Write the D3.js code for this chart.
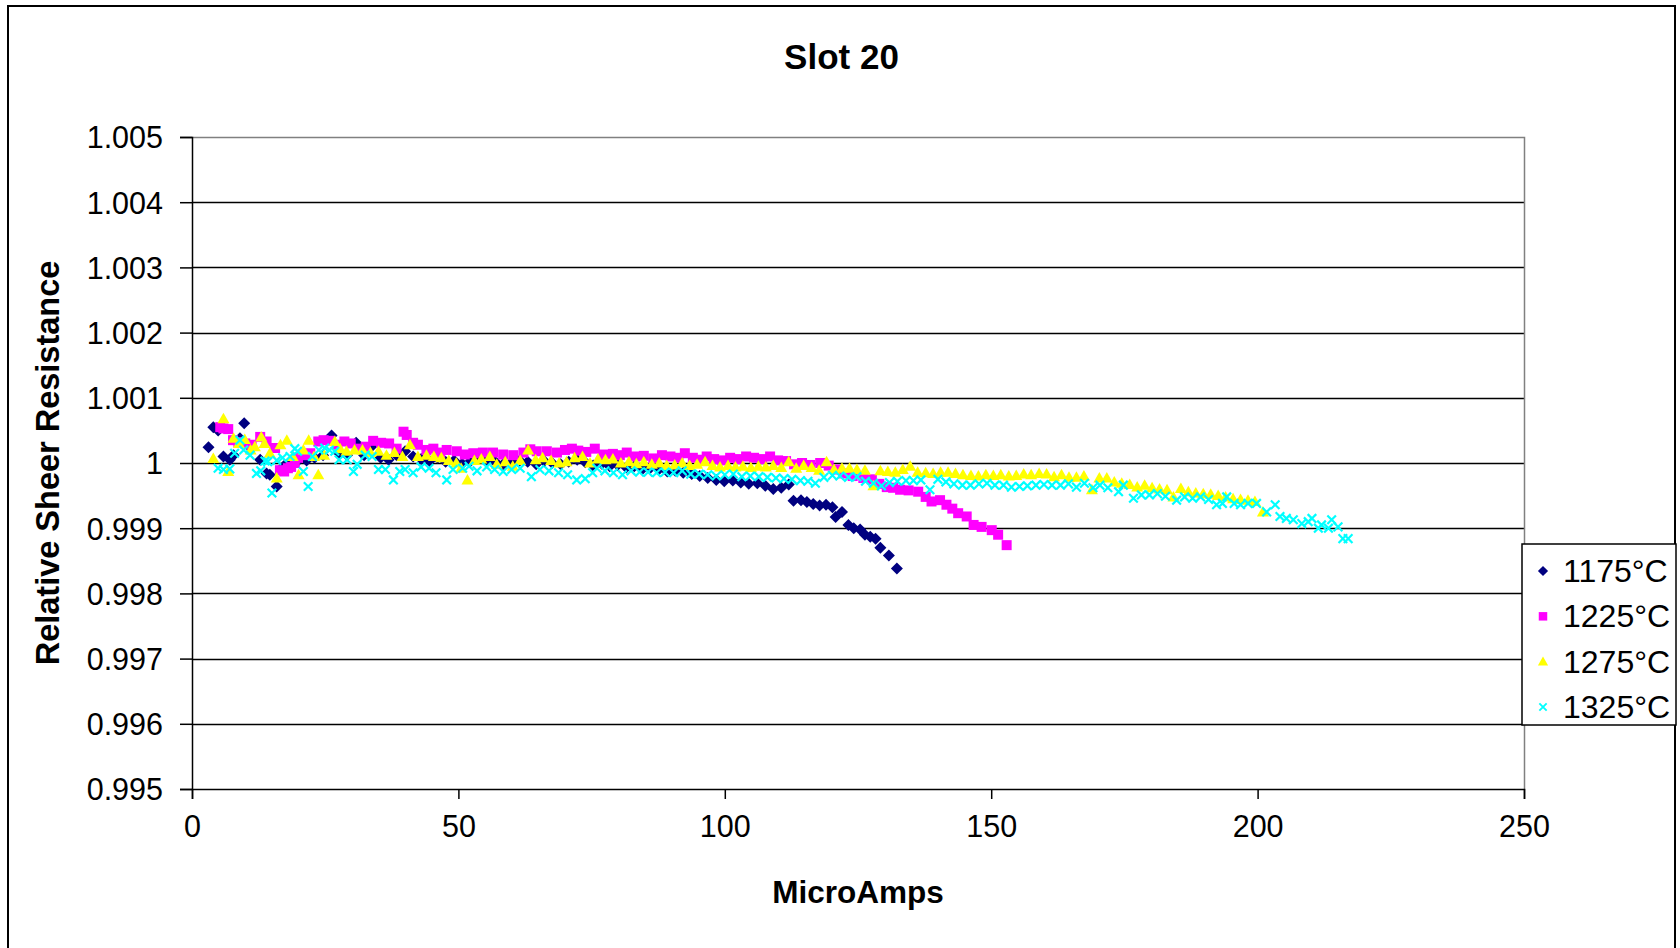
<!DOCTYPE html>
<html>
<head>
<meta charset="utf-8">
<script src="https://cdn.jsdelivr.net/npm/d3@7"></script>
<style>
  html, body { margin: 0; padding: 0; background: #fff; }
  svg { display: block; }
  text { font-family: "Liberation Sans", Arial, sans-serif; fill: #000; }
</style>
</head>
<body>
<svg id="chart" width="1680" height="948"></svg>
<script>
// ---- data: [MicroAmps, relative sheer resistance] ----
const series1175 = [
  [3.1,1.00024],[4.0,1.00055],[4.9,1.00050],[5.9,1.00010],[7.1,1.00005],[7.8,1.00012],[9.0,1.00038],[9.8,1.00061],
  [11.2,1.00022],[12.8,1.00005],[14.0,0.99984],[14.6,0.99982],[15.9,0.99964],[17.2,0.99995],[18.6,1.00003],[20.1,1.00005],
  [21.5,1.00004],[23.0,1.00008],[24.6,1.00012],[26.2,1.00042],[27.6,1.00015],[29.1,1.00012],[30.8,1.00031],[32.3,1.00012],
  [33.8,1.00026],[35.4,1.00008],[36.9,1.00005],[38.4,1.00012],[40.0,1.00018],[41.5,1.00010],[43.0,1.00006],[44.6,1.00003],
  [46.1,1.00008],[47.6,1.00002],[49.2,1.00004],[50.7,0.99999],[52.3,1.00003],[53.8,1.00007],[55.3,1.00004],[56.9,1.00002],
  [58.4,0.99998],[60.0,1.00001],[61.5,1.00004],[63.0,1.00002],[64.6,0.99998],[66.1,1.00003],[67.6,1.00000],[69.2,0.99998],
  [70.7,1.00002],[72.3,1.00005],[73.8,1.00001],[75.3,0.99996],[76.9,0.99999],[78.4,0.99995],[79.9,0.99997],[81.5,0.99993],
  [83.0,0.99995],[84.6,0.99991],[86.1,0.99993],[87.6,0.99990],[89.2,0.99987],[90.7,0.99988],[92.2,0.99985],[93.8,0.99983],
  [95.3,0.99980],[96.8,0.99977],[98.4,0.99974],[99.9,0.99972],[101.5,0.99973],[103.0,0.99970],[104.5,0.99968],[106.1,0.99969],
  [107.6,0.99965],[109.1,0.99960],[110.6,0.99962],[112.0,0.99967],[112.9,0.99942],[114.3,0.99943],[115.4,0.99940],[116.6,0.99937],
  [117.8,0.99935],[119.0,0.99936],[120.2,0.99932],[120.8,0.99917],[122.0,0.99925],[123.2,0.99905],[124.2,0.99900],[125.4,0.99898],
  [126.3,0.99890],[127.3,0.99887],[128.3,0.99884],[129.2,0.99870],[130.8,0.99858],[132.3,0.99838]
];
const series1225 = [
  [5.3,1.00055],[5.9,1.00053],[6.8,1.00052],[7.7,1.00035],[8.7,1.00032],[10.0,1.00030],[11.2,1.00028],[12.8,1.00040],
  [14.0,1.00033],[15.6,1.00023],[16.5,0.99989],[17.3,0.99987],[18.0,0.99992],[18.6,0.99994],[19.3,1.00000],[19.9,1.00008],
  [21.0,1.00012],[22.2,1.00015],[23.7,1.00033],[24.7,1.00035],[26.0,1.00034],[27.3,1.00028],[28.6,1.00033],[29.8,1.00030],
  [31.2,1.00022],[32.6,1.00025],[34.0,1.00034],[35.5,1.00031],[37.0,1.00030],[38.4,1.00022],[39.7,1.00048],[40.3,1.00043],
  [41.5,1.00031],[42.4,1.00028],[44.0,1.00020],[45.3,1.00022],[46.6,1.00016],[47.8,1.00020],[49.7,1.00018],[51.2,1.00013],
  [52.8,1.00015],[54.6,1.00016],[56.5,1.00016],[58.4,1.00013],[60.3,1.00012],[62.2,1.00016],[63.5,1.00021],[64.7,1.00018],
  [66.6,1.00018],[68.5,1.00016],[70.0,1.00020],[71.3,1.00022],[72.5,1.00019],[74.0,1.00017],[75.6,1.00022],[77.2,1.00013],
  [79.0,1.00014],[80.3,1.00012],[81.6,1.00016],[83.2,1.00010],[84.8,1.00011],[86.6,1.00007],[88.2,1.00012],[89.8,1.00010],
  [91.3,1.00008],[92.5,1.00015],[94.0,1.00008],[95.5,1.00005],[96.6,1.00010],[98.0,1.00006],[99.5,1.00004],[101.0,1.00008],
  [102.5,1.00006],[104.0,1.00010],[105.5,1.00008],[107.0,1.00006],[108.5,1.00010],[110.0,1.00004],[111.5,1.00003],[113.0,0.99998],
  [114.5,1.00000],[116.0,0.99997],[117.9,1.00000],[119.5,0.99996],[121.0,0.99990],[122.3,0.99984],[124.0,0.99980],[126.0,0.99977],
  [127.6,0.99975],[129.0,0.99968],[130.4,0.99963],[131.6,0.99962],[132.9,0.99959],[134.5,0.99958],[136.3,0.99956],[137.7,0.99948],
  [138.8,0.99941],[140.4,0.99943],[141.6,0.99936],[142.7,0.99930],[143.8,0.99923],[145.4,0.99918],[146.7,0.99905],[148.2,0.99902],
  [150.1,0.99897],[151.3,0.99890],[152.9,0.99874]
];
const series1275 = [
  [4.0,1.00007],[5.9,1.00068],[6.8,0.99987],[7.8,1.00038],[8.8,1.00030],[9.9,1.00036],[11.0,1.00020],[11.8,1.00025],
  [13.0,1.00040],[13.6,1.00030],[14.6,1.00015],[15.9,0.99977],[16.6,1.00028],[17.8,1.00035],[18.9,1.00010],[20.0,0.99982],
  [20.9,1.00020],[21.9,1.00035],[22.9,1.00010],[23.7,0.99982],[24.8,1.00012],[26.8,1.00033],[27.8,1.00022],[29.0,1.00018],
  [30.5,1.00020],[32.0,1.00020],[33.5,1.00016],[35.0,1.00018],[36.5,1.00012],[38.0,1.00016],[39.5,1.00010],[40.9,1.00028],
  [42.4,1.00010],[44.0,1.00012],[45.4,1.00010],[46.8,1.00008],[48.2,1.00004],[49.6,1.00000],[50.5,0.99992],[51.7,0.99974],
  [53.0,1.00004],[54.3,1.00006],[55.9,1.00010],[57.2,0.99998],[58.8,1.00002],[60.2,0.99995],[61.6,1.00004],[63.1,1.00020],
  [64.5,1.00005],[65.8,1.00008],[67.4,1.00004],[68.9,1.00000],[70.3,1.00002],[71.8,1.00008],[73.3,1.00010],[74.7,1.00000],
  [76.2,1.00006],[77.6,1.00005],[79.0,1.00006],[80.5,1.00000],[82.0,1.00002],[83.4,0.99999],[84.8,1.00002],[86.3,0.99998],
  [87.7,1.00000],[89.1,0.99996],[90.6,0.99997],[92.0,1.00000],[93.4,0.99996],[94.8,0.99998],[96.3,1.00002],[97.7,0.99996],
  [99.1,0.99994],[100.6,0.99996],[102.0,0.99994],[103.4,0.99995],[104.9,0.99993],[106.3,0.99995],[107.7,0.99994],[109.1,0.99996],
  [110.6,0.99993],[112.0,1.00002],[113.4,0.99992],[114.8,0.99996],[116.3,0.99993],[117.7,0.99989],[119.1,1.00002],[120.5,0.99990],
  [122.0,0.99992],[123.4,0.99992],[124.8,0.99990],[126.3,0.99989],[127.9,0.99965],[129.2,0.99988],[130.6,0.99987],[132.0,0.99986],
  [133.4,0.99990],[134.8,0.99995],[136.2,0.99986],[137.7,0.99985],[139.1,0.99984],[140.5,0.99986],[141.9,0.99986],[143.3,0.99984],
  [144.7,0.99982],[146.2,0.99981],[147.6,0.99980],[149.0,0.99982],[150.4,0.99981],[151.8,0.99982],[153.3,0.99980],[154.7,0.99981],
  [156.1,0.99983],[157.5,0.99982],[159.0,0.99984],[160.4,0.99983],[161.8,0.99979],[163.2,0.99982],[164.6,0.99978],[166.0,0.99978],
  [167.4,0.99980],[168.9,0.99959],[170.3,0.99977],[171.7,0.99977],[173.1,0.99971],[174.5,0.99969],[176.0,0.99967],[177.4,0.99963],
  [178.8,0.99966],[180.2,0.99962],[181.6,0.99960],[183.0,0.99959],[184.2,0.99948],[185.6,0.99961],[187.0,0.99956],[188.4,0.99954],
  [189.8,0.99953],[191.2,0.99952],[192.6,0.99950],[194.0,0.99948],[195.4,0.99945],[196.8,0.99944],[198.2,0.99943],[199.5,0.99941],
  [201.0,0.99925]
];
const series1325 = [
  [4.9,0.99992],[5.9,0.99990],[7.1,0.99991],[8.0,1.00015],[9.0,1.00035],[9.7,1.00020],[10.9,1.00012],[12.1,0.99984],
  [12.9,0.99988],[13.7,1.00003],[14.2,1.00002],[15.0,0.99954],[15.9,1.00004],[17.0,1.00008],[18.4,1.00010],[19.3,1.00022],
  [19.8,1.00018],[20.9,0.99987],[21.8,0.99964],[22.6,1.00010],[23.8,1.00020],[24.9,1.00023],[25.8,1.00020],[26.8,1.00018],
  [27.6,1.00005],[29.1,1.00005],[30.3,0.99987],[31.0,0.99998],[32.5,1.00012],[33.8,1.00010],[35.0,0.99990],[36.3,0.99990],
  [37.8,0.99974],[39.0,0.99987],[40.0,0.99990],[41.5,0.99985],[43.0,0.99994],[44.5,0.99992],[45.8,0.99985],[47.8,0.99974],
  [49.0,0.99990],[50.8,0.99992],[52.0,0.99995],[53.5,0.99988],[55.3,0.99994],[56.8,0.99990],[58.4,0.99987],[60.0,0.99990],
  [61.6,0.99992],[63.7,0.99979],[65.3,0.99990],[67.0,0.99988],[68.8,0.99985],[70.5,0.99982],[72.2,0.99974],[73.8,0.99976],
  [75.2,0.99985],[76.0,0.99992],[77.5,0.99988],[79.1,0.99985],[80.8,0.99982],[82.4,0.99988],[84.0,0.99986],[85.6,0.99986],
  [87.2,0.99985],[88.8,0.99986],[90.4,0.99985],[92.0,0.99988],[93.6,0.99983],[95.2,0.99983],[96.8,0.99982],[98.4,0.99980],
  [100.0,0.99982],[101.6,0.99983],[103.2,0.99979],[104.8,0.99980],[106.4,0.99979],[108.0,0.99978],[109.6,0.99977],[111.1,0.99976],
  [112.6,0.99975],[114.2,0.99973],[115.6,0.99972],[117.0,0.99969],[118.6,0.99978],[120.2,0.99981],[121.6,0.99980],[123.2,0.99978],
  [124.8,0.99979],[126.4,0.99972],[127.9,0.99969],[129.4,0.99965],[130.9,0.99970],[132.4,0.99972],[134.0,0.99973],[135.4,0.99973],
  [136.8,0.99974],[138.5,0.99959],[140.0,0.99975],[141.5,0.99971],[143.0,0.99968],[144.6,0.99966],[146.1,0.99966],[147.7,0.99968],
  [149.2,0.99969],[150.7,0.99966],[152.3,0.99966],[153.8,0.99963],[155.3,0.99964],[156.8,0.99965],[158.4,0.99966],[159.9,0.99967],
  [161.4,0.99966],[163.0,0.99966],[164.5,0.99968],[166.0,0.99963],[167.5,0.99969],[169.1,0.99962],[170.4,0.99966],[171.9,0.99962],
  [173.9,0.99956],[174.8,0.99966],[176.7,0.99946],[178.2,0.99951],[179.7,0.99951],[181.2,0.99953],[182.7,0.99949],[184.8,0.99943],
  [186.3,0.99948],[187.8,0.99946],[189.3,0.99948],[190.8,0.99944],[192.3,0.99936],[193.4,0.99938],[194.2,0.99948],[195.6,0.99938],
  [196.8,0.99936],[198.2,0.99938],[199.8,0.99938],[201.7,0.99925],[203.3,0.99936],[204.2,0.99918],[205.4,0.99915],[206.7,0.99913],
  [208.3,0.99907],[209.5,0.99910],[210.2,0.99915],[211.4,0.99900],[212.0,0.99905],[213.3,0.99900],[213.9,0.99913],[215.1,0.99902],
  [216.0,0.99884],[217.0,0.99884]
];

const seriesNames  = ["1175°C", "1225°C", "1275°C", "1325°C"];
const seriesColors = ["#000080", "#FF00FF", "#FFFF00", "#00FFFF"];
const seriesShapes = ["diamond", "square", "triangle", "cross"];
const allSeries    = [series1175, series1225, series1275, series1325];

const xTicks = [0, 50, 100, 150, 200, 250];
const yTicks = [0.995, 0.996, 0.997, 0.998, 0.999, 1, 1.001, 1.002, 1.003, 1.004, 1.005];
const yTickLabels = ["0.995", "0.996", "0.997", "0.998", "0.999", "1", "1.001", "1.002", "1.003", "1.004", "1.005"];

const chartTitle = "Slot 20";
const xTitle = "MicroAmps";
const yTitle = "Relative Sheer Resistance";

// ---- layout ----
const svg = d3.select("#chart");
const plot = { left: 192, right: 1524, top: 137, bottom: 789 };

const x = d3.scaleLinear().domain([0, 250]).range([plot.left, plot.right]);
const y = d3.scaleLinear().domain([0.995, 1.005]).range([plot.bottom, plot.top]);

// outer chart frame
svg.append("rect")
  .attr("x", 8).attr("y", 6).attr("width", 1667).attr("height", 960)
  .attr("fill", "#fff").attr("stroke", "#000").attr("stroke-width", 2);

// horizontal gridlines
svg.append("g")
  .selectAll("line")
  .data(yTicks.slice(1, -1))
  .join("line")
  .attr("x1", plot.left).attr("x2", plot.right)
  .attr("y1", d => Math.round(y(d)) + 0.5).attr("y2", d => Math.round(y(d)) + 0.5)
  .attr("stroke", "#000").attr("stroke-width", 1.5);

// plot area top and right edges
svg.append("path")
  .attr("d", `M${plot.left},${plot.top + 0.5}H${plot.right + 0.5}V${plot.bottom}`)
  .attr("fill", "none").attr("stroke", "#808080").attr("stroke-width", 1.5);

// y axis
const yAxis = d3.axisLeft(y).tickValues(yTicks).tickSize(12).tickPadding(17)
  .tickFormat((d, i) => yTickLabels[i]);
const gy = svg.append("g").attr("transform", `translate(${plot.left},0)`).call(yAxis);
gy.select(".domain").attr("stroke", "#000").attr("stroke-width", 1.5);
gy.selectAll(".tick line").attr("stroke", "#000").attr("stroke-width", 1.5);
gy.selectAll(".tick text")
  .attr("font-family", "Liberation Sans, Arial, sans-serif")
  .attr("font-size", 30.5).attr("fill", "#000").attr("dy", "0.36em");

// x axis
const xAxis = d3.axisBottom(x).tickValues(xTicks).tickSize(10).tickPadding(16).tickFormat(d3.format("d"));
const gx = svg.append("g").attr("transform", `translate(0,${plot.bottom})`).call(xAxis);
gx.select(".domain").attr("stroke", "#000").attr("stroke-width", 1.5);
gx.selectAll(".tick line").attr("stroke", "#000").attr("stroke-width", 1.5);
gx.selectAll(".tick text")
  .attr("font-family", "Liberation Sans, Arial, sans-serif")
  .attr("font-size", 30.5).attr("fill", "#000");

// marker paths
function markerPath(shape) {
  switch (shape) {
    case "diamond":  return "M0,-6L6,0L0,6L-6,0Z";
    case "square":   return "M-5,-5H5V5H-5Z";
    case "triangle": return "M0,-6L6,4.5L-6,4.5Z";
    case "cross":    return "M-4.3,-4.3L4.3,4.3M-4.3,4.3L4.3,-4.3";
  }
}
function styleMarker(sel, i) {
  if (seriesShapes[i] === "cross") {
    sel.attr("fill", "none").attr("stroke", seriesColors[i]).attr("stroke-width", 2.2);
  } else {
    sel.attr("fill", seriesColors[i]).attr("stroke", "none");
  }
}

// data points
allSeries.forEach((data, i) => {
  svg.append("g")
    .selectAll("path")
    .data(data)
    .join("path")
    .attr("d", markerPath(seriesShapes[i]))
    .attr("transform", d => `translate(${x(d[0])},${y(d[1])})`)
    .call(styleMarker, i);
});

// titles
svg.append("text")
  .attr("x", 841.5).attr("y", 69)
  .attr("text-anchor", "middle").attr("font-weight", "bold").attr("font-size", 35)
  .text(chartTitle);

svg.append("text")
  .attr("x", (plot.left + plot.right) / 2).attr("y", 903)
  .attr("text-anchor", "middle").attr("font-weight", "bold").attr("font-size", 31.5)
  .text(xTitle);

svg.append("text")
  .attr("transform", `translate(59,${(plot.top + plot.bottom) / 2}) rotate(-90)`)
  .attr("text-anchor", "middle").attr("font-weight", "bold").attr("font-size", 32.5)
  .text(yTitle);

// legend
const legend = svg.append("g");
legend.append("rect")
  .attr("x", 1522).attr("y", 544).attr("width", 154).attr("height", 181)
  .attr("fill", "#fff").attr("stroke", "#000").attr("stroke-width", 1.5);

const legendRowY = d3.scaleLinear().domain([0, 3]).range([571, 707]);
seriesNames.forEach((name, i) => {
  const cy = legendRowY(i);
  legend.append("path")
    .attr("d", markerPath(seriesShapes[i]))
    .attr("transform", `translate(1543,${cy}) scale(0.85)`)
    .call(styleMarker, i);
  legend.append("text")
    .attr("x", 1563).attr("y", cy + 11)
    .attr("font-size", 32)
    .text(name);
});
</script>
</body>
</html>
